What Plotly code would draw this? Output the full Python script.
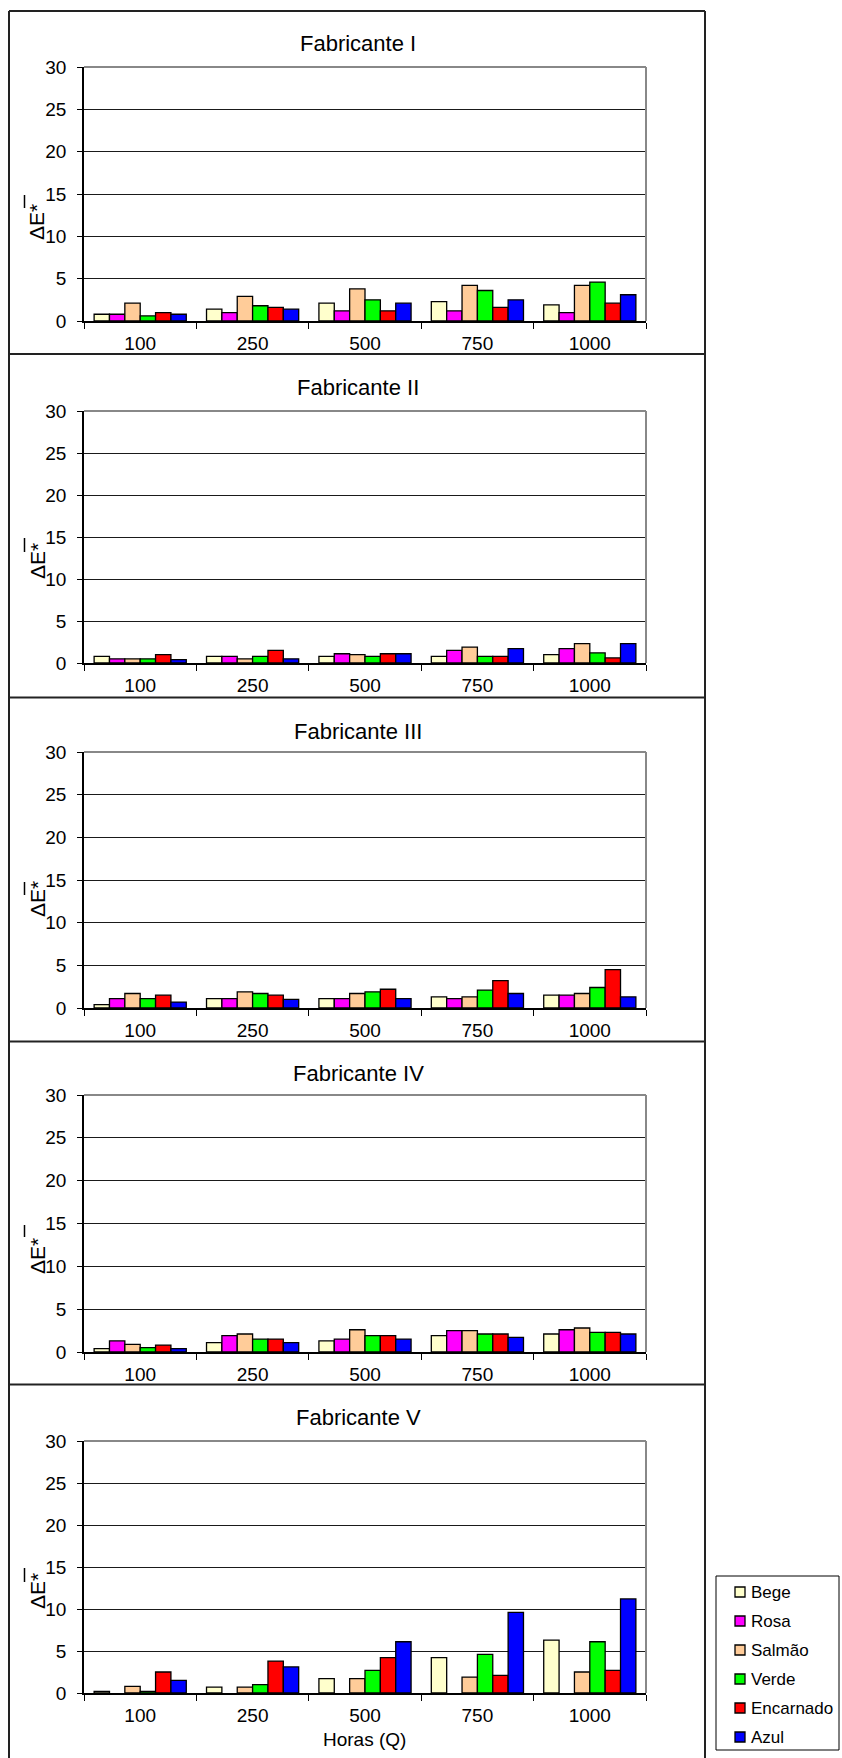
import plotly.graph_objects as go

# ---------------- data ----------------
hours = ["100", "250", "500", "750", "1000"]
series_names = ["Bege", "Rosa", "Salmão", "Verde", "Encarnado", "Azul"]
series_colors = ["#FFFFCC", "#FF00FF", "#FFCC99", "#00FF00", "#FF0000", "#0000FF"]
panel_titles = ["Fabricante I", "Fabricante II", "Fabricante III", "Fabricante IV", "Fabricante V"]

fab1_bege = [0.8, 1.4, 2.1, 2.3, 1.9]
fab1_rosa = [0.8, 1.0, 1.2, 1.2, 1.0]
fab1_salmao = [2.1, 2.9, 3.8, 4.2, 4.2]
fab1_verde = [0.6, 1.8, 2.5, 3.6, 4.6]
fab1_encarnado = [1.0, 1.6, 1.2, 1.6, 2.1]
fab1_azul = [0.8, 1.4, 2.1, 2.5, 3.1]

fab2_bege = [0.8, 0.8, 0.8, 0.8, 1.0]
fab2_rosa = [0.5, 0.8, 1.1, 1.5, 1.7]
fab2_salmao = [0.5, 0.5, 1.0, 1.9, 2.3]
fab2_verde = [0.5, 0.8, 0.8, 0.8, 1.2]
fab2_encarnado = [1.0, 1.5, 1.1, 0.8, 0.6]
fab2_azul = [0.4, 0.5, 1.1, 1.7, 2.3]

fab3_bege = [0.4, 1.1, 1.1, 1.3, 1.5]
fab3_rosa = [1.1, 1.1, 1.1, 1.1, 1.5]
fab3_salmao = [1.7, 1.9, 1.7, 1.3, 1.7]
fab3_verde = [1.1, 1.7, 1.9, 2.1, 2.4]
fab3_encarnado = [1.5, 1.5, 2.2, 3.2, 4.5]
fab3_azul = [0.7, 1.0, 1.1, 1.7, 1.3]

fab4_bege = [0.4, 1.1, 1.3, 1.9, 2.1]
fab4_rosa = [1.3, 1.9, 1.5, 2.5, 2.6]
fab4_salmao = [0.9, 2.1, 2.6, 2.5, 2.8]
fab4_verde = [0.5, 1.5, 1.9, 2.1, 2.3]
fab4_encarnado = [0.8, 1.5, 1.9, 2.1, 2.3]
fab4_azul = [0.4, 1.1, 1.5, 1.7, 2.1]

fab5_bege = [0.2, 0.7, 1.7, 4.2, 6.3]
fab5_rosa = [None, None, None, None, None]
fab5_salmao = [0.8, 0.7, 1.7, 1.9, 2.5]
fab5_verde = [0.2, 1.0, 2.7, 4.6, 6.1]
fab5_encarnado = [2.5, 3.8, 4.2, 2.1, 2.7]
fab5_azul = [1.5, 3.1, 6.1, 9.6, 11.2]

panels = [
    [fab1_bege, fab1_rosa, fab1_salmao, fab1_verde, fab1_encarnado, fab1_azul],
    [fab2_bege, fab2_rosa, fab2_salmao, fab2_verde, fab2_encarnado, fab2_azul],
    [fab3_bege, fab3_rosa, fab3_salmao, fab3_verde, fab3_encarnado, fab3_azul],
    [fab4_bege, fab4_rosa, fab4_salmao, fab4_verde, fab4_encarnado, fab4_azul],
    [fab5_bege, fab5_rosa, fab5_salmao, fab5_verde, fab5_encarnado, fab5_azul],
]

# ---------------- layout geometry (pixels) ----------------
W, H = 842, 1758
FONT = "Liberation Sans, Arial, sans-serif"
plot_left, plot_right = 84, 646
plot_tops = [67, 411, 752, 1095, 1441]
plot_bottoms = [321, 663, 1008, 1352, 1693]
title_y = [44, 387, 731, 1073, 1417]
label_y = [222, 561, 899, 1256, 1591]
bar_y = [(195, 208), (538, 552), (882, 895), (1225, 1237), (1568, 1582)]
frame_left, frame_right, frame_top = 9, 705, 11
separators = [354, 697.5, 1041.5, 1384.5]
legend_box = (716, 1576, 839, 1750)
legend_first_y, legend_step = 1592, 29


def px(x):
    return x / W


def py(y):
    return 1 - y / H


fig = go.Figure()

for p, data in enumerate(panels):
    xa = "x" if p == 0 else f"x{p+1}"
    ya = "y" if p == 0 else f"y{p+1}"
    for s, name in enumerate(series_names):
        fig.add_trace(go.Bar(
            x=hours, y=data[s], name=name,
            marker=dict(color=series_colors[s], line=dict(color="black", width=1.3)),
            xaxis=xa, yaxis=ya,
            legendgroup=name, showlegend=False,
        ))

layout = dict(
    width=W, height=H,
    margin=dict(l=0, r=0, t=0, b=0, pad=0, autoexpand=False),
    paper_bgcolor="white", plot_bgcolor="white",
    barmode="group", bargap=0.18, bargroupgap=0,
    font=dict(family=FONT, color="black", size=16),
    showlegend=False,
)

shapes = []
annotations = []
for p in range(5):
    sfx = "" if p == 0 else str(p + 1)
    layout["xaxis" + sfx] = dict(
        domain=[px(plot_left), px(plot_right)],
        anchor="y" + sfx, type="category", automargin=False,
        showline=True, linecolor="black", linewidth=1.5,
        ticks="outside", tickson="boundaries", ticklen=6, tickcolor="black", tickwidth=1,
        tickfont=dict(family=FONT, size=19, color="black"),
        ticklabelstandoff=4,
        showgrid=False, fixedrange=True,
    )
    layout["yaxis" + sfx] = dict(
        domain=[py(plot_bottoms[p]), py(plot_tops[p])],
        anchor="x" + sfx, range=[0, 30], dtick=5, automargin=False,
        showline=True, linecolor="black", linewidth=1.5,
        ticks="outside", ticklen=5, tickcolor="black", tickwidth=1,
        tickfont=dict(family=FONT, size=19, color="black"),
        ticklabelstandoff=7,
        showgrid=True, gridcolor="#1a1a1a", gridwidth=1,
        zeroline=False, fixedrange=True,
    )
    # grey top and right border of plot area
    shapes.append(dict(type="line", xref="paper", yref="paper",
                       x0=px(plot_left), x1=px(plot_right), y0=py(plot_tops[p]), y1=py(plot_tops[p]),
                       line=dict(color="#888888", width=2)))
    shapes.append(dict(type="line", xref="paper", yref="paper",
                       x0=px(plot_right), x1=px(plot_right), y0=py(plot_tops[p]), y1=py(plot_bottoms[p]),
                       line=dict(color="#888888", width=2)))
    # panel title
    annotations.append(dict(text=panel_titles[p], x=px(358), y=py(title_y[p]),
                            xref="paper", yref="paper", showarrow=False,
                            xanchor="center", yanchor="middle",
                            font=dict(family=FONT, size=22, color="black")))
    # y axis label
    annotations.append(dict(text="ΔE*", x=px(37), y=py(label_y[p]),
                            xref="paper", yref="paper", showarrow=False, textangle=-90,
                            xanchor="center", yanchor="middle",
                            font=dict(family=FONT, size=21, color="black")))
    shapes.append(dict(type="line", xref="paper", yref="paper",
                       x0=px(24.5), x1=px(24.5), y0=py(bar_y[p][0]), y1=py(bar_y[p][1]),
                       line=dict(color="black", width=1.5)))

annotations.append(dict(text="Horas (Q)", x=px(364), y=py(1739), xref="paper", yref="paper",
                        showarrow=False, xanchor="center", yanchor="middle",
                        font=dict(family=FONT, size=19, color="black")))

# outer frame and separators
frame_col = "#222222"
shapes.append(dict(type="line", xref="paper", yref="paper", x0=px(frame_left), x1=px(frame_left),
                   y0=py(frame_top), y1=0, line=dict(color=frame_col, width=2)))
shapes.append(dict(type="line", xref="paper", yref="paper", x0=px(frame_right), x1=px(frame_right),
                   y0=py(frame_top), y1=0, line=dict(color=frame_col, width=2)))
shapes.append(dict(type="line", xref="paper", yref="paper", x0=px(frame_left), x1=px(frame_right),
                   y0=py(frame_top), y1=py(frame_top), line=dict(color=frame_col, width=2)))
for sy in separators:
    shapes.append(dict(type="line", xref="paper", yref="paper", x0=px(frame_left), x1=px(frame_right),
                       y0=py(sy), y1=py(sy), line=dict(color=frame_col, width=2)))

# legend (box, swatches, labels)
lx0, ly0, lx1, ly1 = legend_box
shapes.append(dict(type="rect", xref="paper", yref="paper", x0=px(lx0), x1=px(lx1),
                   y0=py(ly1), y1=py(ly0), line=dict(color="black", width=1), fillcolor="white"))
for s, name in enumerate(series_names):
    cy = legend_first_y + s * legend_step
    shapes.append(dict(type="rect", xref="paper", yref="paper",
                       x0=px(735), x1=px(745), y0=py(cy + 5), y1=py(cy - 5),
                       line=dict(color="black", width=1.3), fillcolor=series_colors[s]))
    annotations.append(dict(text=name, x=px(749), y=py(cy), xref="paper", yref="paper",
                            showarrow=False, xanchor="left", yanchor="middle",
                            font=dict(family=FONT, size=17, color="black")))

layout["shapes"] = shapes
layout["annotations"] = annotations
fig.update_layout(**layout)

fig.write_html("out.html", config={"displayModeBar": False},
               post_script="document.body.style.margin='0';document.body.style.padding='0';")
